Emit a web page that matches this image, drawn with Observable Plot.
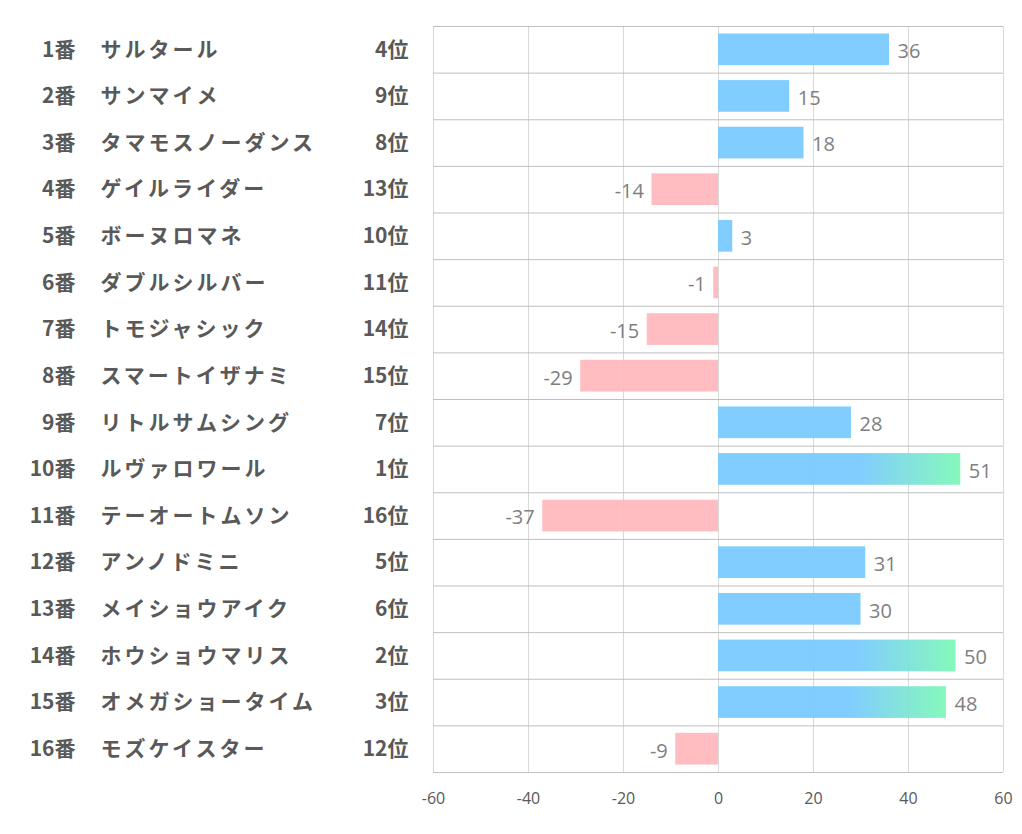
<!DOCTYPE html>
<html><head><meta charset="utf-8">
<script src="https://cdn.jsdelivr.net/npm/d3@7"></script>
<script src="https://cdn.jsdelivr.net/npm/@observablehq/plot@0.6"></script>
<style>
body{margin:0;background:#fff;}
.names text{letter-spacing:3px;}
</style>
</head><body><div id="chart"></div>
<script>
const numbers = ["1番","2番","3番","4番","5番","6番","7番","8番","9番","10番","11番","12番","13番","14番","15番","16番"];
const horses = ["サルタール","サンマイメ","タマモスノーダンス","ゲイルライダー","ボーヌロマネ","ダブルシルバー","トモジャシック","スマートイザナミ","リトルサムシング","ルヴァロワール","テーオートムソン","アンノドミニ","メイショウアイク","ホウショウマリス","オメガショータイム","モズケイスター"];
const ranks = ["4位","9位","8位","13位","10位","11位","14位","15位","7位","1位","16位","5位","6位","2位","3位","12位"];
const values = [36,15,18,-14,3,-1,-15,-29,28,51,-37,31,30,50,48,-9];
const xTicks = [-60,-40,-20,0,20,40,60];

const data = horses.map((h,i)=>({num:numbers[i], name:h, rank:ranks[i], rankN:parseInt(ranks[i]), value:values[i]}));

const BLUE = "#78C9FF", GREEN = "#7CF8B6", PINK = "#FFB8BC";
const W = 1022, H = 834, ML = 433, MR = 19, MT = 26, MB = 62;
const step = (H - MT - MB) / horses.length;

function defs(){
  const ns = "http://www.w3.org/2000/svg";
  const d = document.createElementNS(ns,"defs");
  const g = document.createElementNS(ns,"linearGradient");
  g.setAttribute("id","topgrad");
  g.setAttribute("x1","0");g.setAttribute("x2","1");g.setAttribute("y1","0");g.setAttribute("y2","0");
  [[0,BLUE],[0.58,BLUE],[1,GREEN]].forEach(([o,c])=>{
    const s=document.createElementNS(ns,"stop");
    s.setAttribute("offset",o);s.setAttribute("stop-color",c);g.appendChild(s);
  });
  d.appendChild(g);
  return d;
}

const numFont = "'Open Sans', 'Noto Sans', sans-serif";
const chart = Plot.plot({
  width: W, height: H,
  marginLeft: ML, marginRight: MR, marginTop: MT, marginBottom: MB,
  style: {fontFamily: "'Noto Sans CJK JP', 'Noto Sans', sans-serif", background:"#fff"},
  x: {domain: [-60,60], label: null},
  y: {domain: horses, paddingInner: 0.32, paddingOuter: 0.16, round: false, axis: null},
  marks: [
    defs,
    Plot.gridX(xTicks, {stroke:"#d9d9d9", strokeOpacity:1}),
    Plot.ruleY(horses, {y: d=>d, dy: -step/2, stroke:"#bfbfbf"}),
    Plot.ruleY([horses[horses.length-1]], {y: d=>d, dy: step/2, stroke:"#bfbfbf"}),
    Plot.barX(data, {y:"name", x:"value", fillOpacity:0.93,
      fill: d => d.rankN <= 3 ? "url(#topgrad)" : (d.value < 0 ? PINK : BLUE)}),
    Plot.text(data.filter(d=>d.value>=0), {y:"name", x:"value", text: d=>String(d.value),
      textAnchor:"start", dx: 8, dy: 2, fill:"#808080", fontSize:20, fontFamily:numFont}),
    Plot.text(data.filter(d=>d.value<0), {y:"name", x:"value", text: d=>String(d.value),
      textAnchor:"end", dx: -8, dy: 2, fill:"#808080", fontSize:20, fontFamily:numFont}),
    Plot.axisX({ticks:xTicks, tickFormat: d=>String(d), tickSize:0, tickPadding:20, fontSize:16,
      fill:"#595959", label:null, fontFamily:numFont}),
    Plot.text(data, {y:"name", text:"num", frameAnchor:"left", dx:-358, textAnchor:"end",
      fontSize:21, fontWeight:"bold", fill:"#595959"}),
    Plot.text(data, {y:"name", text:"name", frameAnchor:"left", dx:-333, textAnchor:"start",
      fontSize:21, fontWeight:"bold", fill:"#595959", className:"names"}),
    Plot.text(data, {y:"name", text:"rank", frameAnchor:"left", dx:-25, textAnchor:"end",
      fontSize:21, fontWeight:"bold", fill:"#595959"})
  ]
});
document.getElementById("chart").appendChild(chart);
</script>
</body></html>
